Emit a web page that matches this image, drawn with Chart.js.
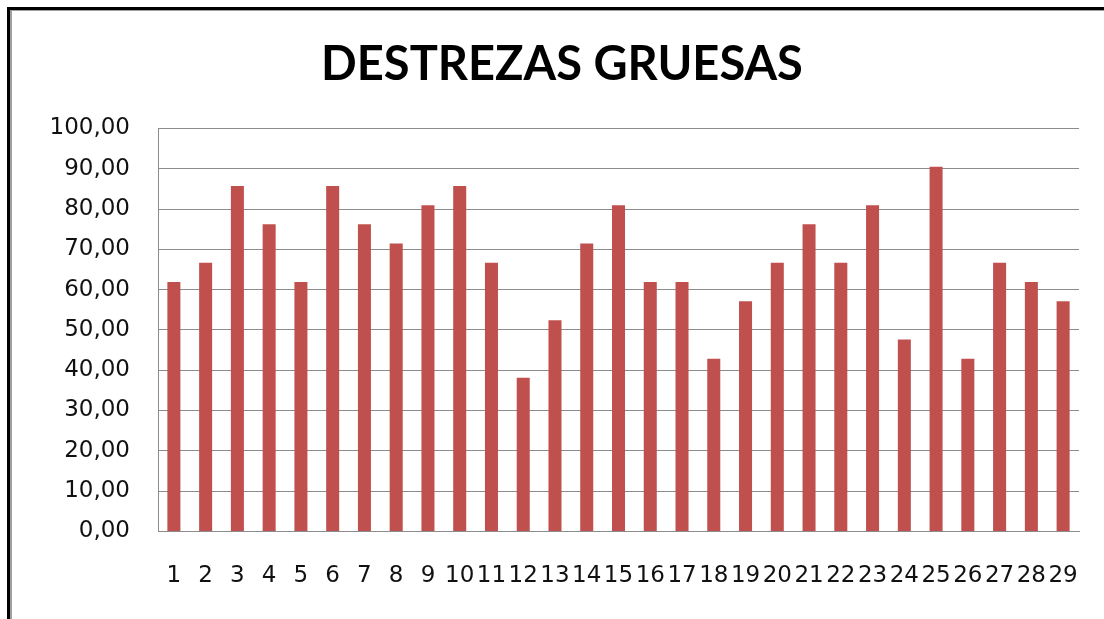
<!DOCTYPE html>
<html>
<head>
<meta charset="utf-8">
<script src="https://cdn.jsdelivr.net/npm/chart.js@4"></script>
<style>
    html, body { margin: 0; padding: 0; background: #fff; overflow: hidden; }
    #wrap { position: relative; width: 1104px; height: 619px; }
    #frame {
        position: absolute; left: 7px; top: 7px; right: -10px; bottom: -10px;
        border-left: 3px solid #000; border-top: 3px solid #000;
        pointer-events: none;
    }
    #frame div {
        position: absolute; left: 0; top: 0; right: 0; bottom: 0;
        border-left: 2px solid #a0a0a0; border-top: 1px solid #a0a0a0;
    }
    canvas { position: absolute; left: 0; top: 0; }
</style>
</head>
<body>
<div id="wrap">
    <canvas id="chart" width="1104" height="619"></canvas>
    <div id="frame"><div></div></div>
</div>
<script>
// chart data
const titleText = 'DESTREZAS GRUESAS';
const categories = ['1', '2', '3', '4', '5', '6', '7', '8', '9', '10', '11', '12', '13', '14', '15',
    '16', '17', '18', '19', '20', '21', '22', '23', '24', '25', '26', '27', '28', '29'];
const scores = [61.90, 66.67, 85.71, 76.19, 61.90, 85.71, 76.19, 71.43, 80.95, 85.71, 66.67, 38.10, 52.38, 71.43, 80.95,
    61.90, 61.90, 42.86, 57.14, 66.67, 76.19, 66.67, 80.95, 47.62, 90.48, 42.86, 66.67, 61.90, 57.14];
const yTicks = [0, 10, 20, 30, 40, 50, 60, 70, 80, 90, 100];

const gridGray = '#8c8c8c';
const tickFont = { family: 'DejaVu Sans', size: 23 };

const ctx = document.getElementById('chart').getContext('2d');
new Chart(ctx, {
    type: 'bar',
    data: {
        labels: categories,
        datasets: [{
            label: titleText,
            data: scores,
            backgroundColor: '#C0504D',
            borderWidth: 0,
            categoryPercentage: 1,
            barPercentage: 0.41
        }]
    },
    options: {
        responsive: false,
        animation: false,
        layout: { padding: { left: 45, right: 25, top: 0, bottom: -2 } },
        plugins: {
            legend: { display: false },
            tooltip: { enabled: false },
            title: {
                display: true,
                text: titleText,
                color: '#000',
                font: { family: 'Lato', size: 47, weight: 'bold' },
                padding: { top: 37, bottom: 35 }
            }
        },
        scales: {
            x: {
                // labels overlap the edges, keep the plot right edge where the layout puts it
                afterFit: function (scale) {
                    scale.paddingLeft = 0;
                    scale.paddingRight = 0;
                },
                grid: { display: false, drawTicks: false },
                border: { color: gridGray, width: 1 },
                ticks: {
                    autoSkip: false,
                    maxRotation: 0,
                    minRotation: 0,
                    padding: 31,
                    color: '#111',
                    font: tickFont
                }
            },
            y: {
                min: 0,
                max: 100,
                afterFit: function (scale) { scale.width = 113; },
                afterBuildTicks: function (scale) {
                    scale.ticks = yTicks.map(v => ({ value: v }));
                },
                grid: { color: gridGray, lineWidth: 1, drawTicks: false },
                border: { color: gridGray, width: 1 },
                ticks: {
                    padding: 28,
                    color: '#111',
                    font: tickFont,
                    callback: v => v.toFixed(2).replace('.', ',')
                }
            }
        }
    }
});
</script>
</body>
</html>
